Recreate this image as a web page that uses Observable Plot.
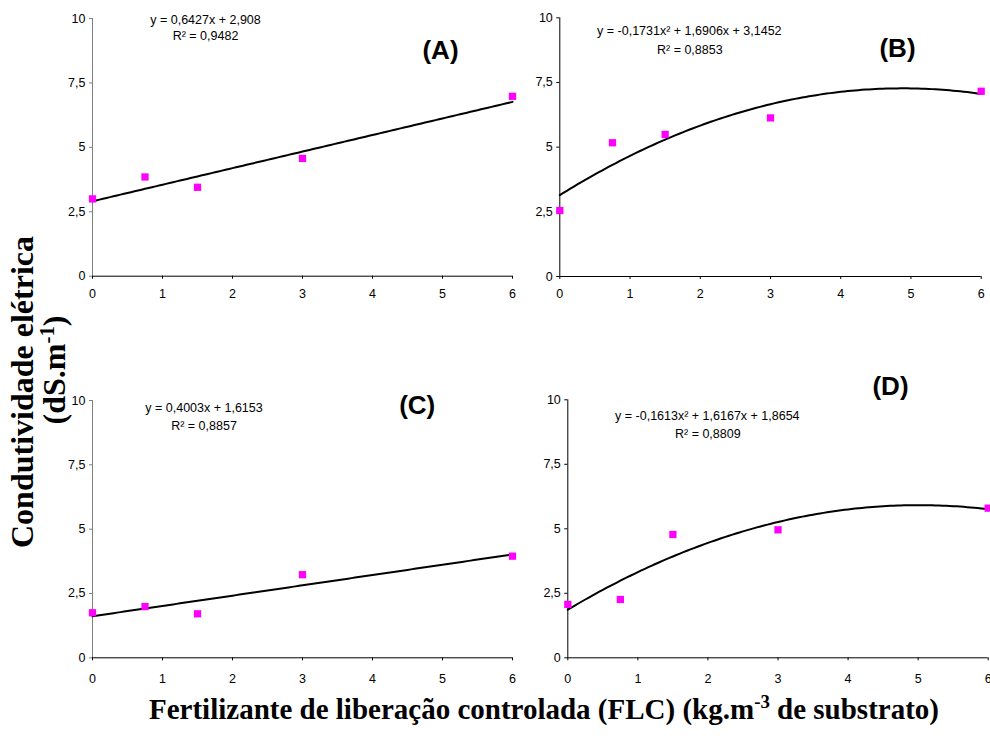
<!DOCTYPE html>
<html>
<head>
<meta charset="utf-8">
<script src="https://cdn.jsdelivr.net/npm/d3@7"></script>
<script src="https://cdn.jsdelivr.net/npm/@observablehq/plot@0.6"></script>
<style>
  body { margin: 0; background: #fff; }
  #root { position: relative; width: 990px; height: 742px; overflow: hidden; background: #fff; }
  #root svg { position: absolute; overflow: visible; max-width: none; }
  .ttl { position: absolute; font-family: "Liberation Serif", "Times New Roman", serif; font-weight: bold; color: #000; white-space: nowrap; line-height: 1; }
  .ttl sup { font-size: 0.65em; vertical-align: 0.55em; line-height: 0; }
</style>
</head>
<body>
<div id="root"></div>
<script>
// ---- data ----
const doses = [0, 0.75, 1.5, 3, 6];            // FLC dose (kg.m-3)
const ceA = [3.00, 3.85, 3.45, 4.57, 6.98];     // panel A
const ceB = [2.55, 5.17, 5.49, 6.13, 7.16];     // panel B
const ceC = [1.75, 1.99, 1.71, 3.23, 3.95];     // panel C
const ceD = [2.07, 2.26, 4.78, 4.96, 5.80];     // panel D
// fitted trend coefficients printed on the chart: [c0, c1, c2]
const coefA = [2.908, 0.6427, 0];
const coefB = [3.1452, 1.6906, -0.1731];
const coefC = [1.6153, 0.4003, 0];
const coefD = [1.8654, 1.6167, -0.1613];
const eqTexts = ["y = 0,6427x + 2,908", "y = -0,1731x² + 1,6906x + 3,1452", "y = 0,4003x + 1,6153", "y = -0,1613x² + 1,6167x + 1,8654"];
const r2Texts = ["R² = 0,9482", "R² = 0,8853", "R² = 0,8857", "R² = 0,8809"];
const panelLabels = ["(A)", "(B)", "(C)", "(D)"];
const xTicks = [0, 1, 2, 3, 4, 5, 6];
const yTicks = [0, 2.5, 5, 7.5, 10];
const yTickLabels = ["0", "2,5", "5", "7,5", "10"];

// ---- layout ----
const panels = [
  {values: ceA, coef: coefA, left: 0,   top: 0,   w: 530, h: 300, ml: 92,   mr: 18,  mt: 18,   mb: 24.3, yAxisColor: "#808080", xPad: 10,
   eq: [113, 1], r2: [113, 17.7], lab: [348, 32]},
  {values: ceB, coef: coefB, left: 500, top: 0,   w: 490, h: 300, ml: 59.3, mr: 9.3, mt: 17.3, mb: 24,   yAxisColor: "#000", xPad: 10,
   eq: [129.5, 13.4], r2: [130, 31.7], lab: [337.7, 30.7]},
  {values: ceC, coef: coefC, left: 0,   top: 380, w: 530, h: 300, ml: 92,   mr: 18,  mt: 20,   mb: 22.7, yAxisColor: "#808080", xPad: 13,
   eq: [111.5, 7.7], r2: [111.5, 25.7], lab: [324.7, 5]},
  {values: ceD, coef: coefD, left: 500, top: 370, w: 490, h: 310, ml: 67.3, mr: 2.3, mt: 29.3, mb: 22.7, yAxisColor: "#000", xPad: 13,
   eq: [139.5, 16.4], r2: [140, 34], lab: [322.7, -13.3]}
];

const root = document.getElementById("root");
const font = "'Liberation Sans', Arial, sans-serif";

panels.forEach((p, i) => {
  const pts = doses.map((x, k) => ({x, y: p.values[k]}));
  const fitXs = d3.range(0, 6.0001, 0.05);
  const fit = fitXs.map(x => ({x, y: p.coef[0] + p.coef[1] * x + p.coef[2] * x * x}));
  const svg = Plot.plot({
    width: p.w, height: p.h,
    marginLeft: p.ml, marginRight: p.mr, marginTop: p.mt, marginBottom: p.mb,
    style: {background: "transparent", color: "#000", fontFamily: font, fontSize: "12.5px", overflow: "visible"},
    x: {domain: [0, 6]},
    y: {domain: [0, 10]},
    marks: [
      Plot.axisX(xTicks, {tickSize: 3, tickPadding: p.xPad, tickFormat: d => String(d), label: null, stroke: "#000", fill: "#000", fontSize: 12.5}),
      Plot.axisY(yTicks, {tickSize: 3, tickPadding: 4, tickFormat: d => yTickLabels[yTicks.indexOf(d)], label: null, stroke: p.yAxisColor, fill: "#000", fontSize: 12.5}),
      Plot.ruleX([0], {stroke: p.yAxisColor, strokeWidth: 1}),
      Plot.ruleY([0], {stroke: "#000", strokeWidth: 1}),
      Plot.line(fit, {x: "x", y: "y", stroke: "#000", strokeWidth: 2}),
      Plot.dot(pts, {x: "x", y: "y", symbol: "square", r: 4.1, fill: "#ff00ff", stroke: "none"}),
      Plot.text([eqTexts[i]], {frameAnchor: "top-left", dx: p.eq[0], dy: p.eq[1], textAnchor: "middle", lineAnchor: "middle", fontSize: 12.5, fill: "#000"}),
      Plot.text([r2Texts[i]], {frameAnchor: "top-left", dx: p.r2[0], dy: p.r2[1], textAnchor: "middle", lineAnchor: "middle", fontSize: 12.5, fill: "#000"}),
      Plot.text([panelLabels[i]], {frameAnchor: "top-left", dx: p.lab[0], dy: p.lab[1], textAnchor: "middle", lineAnchor: "middle", fontSize: 26, fontWeight: "bold", fill: "#000"})
    ]
  });
  svg.style.left = p.left + "px";
  svg.style.top = p.top + "px";
  root.appendChild(svg);
});

// ---- axis titles ----
function title(html, cx, cy, size, rotate) {
  const d = document.createElement("div");
  d.className = "ttl";
  d.innerHTML = html;
  d.style.fontSize = size + "px";
  d.style.left = cx + "px";
  d.style.top = cy + "px";
  d.style.transform = "translate(-50%, -50%)" + (rotate ? " rotate(-90deg)" : "");
  root.appendChild(d);
}
title("Condutividade elétrica", 22, 392, 32, true);
title("(dS.m<sup>-1</sup>)", 54, 370, 32, true);
title("Fertilizante de liberação controlada (FLC) (kg.m<sup>-3</sup> de substrato)", 544, 709, 29, false);
</script>
</body>
</html>
